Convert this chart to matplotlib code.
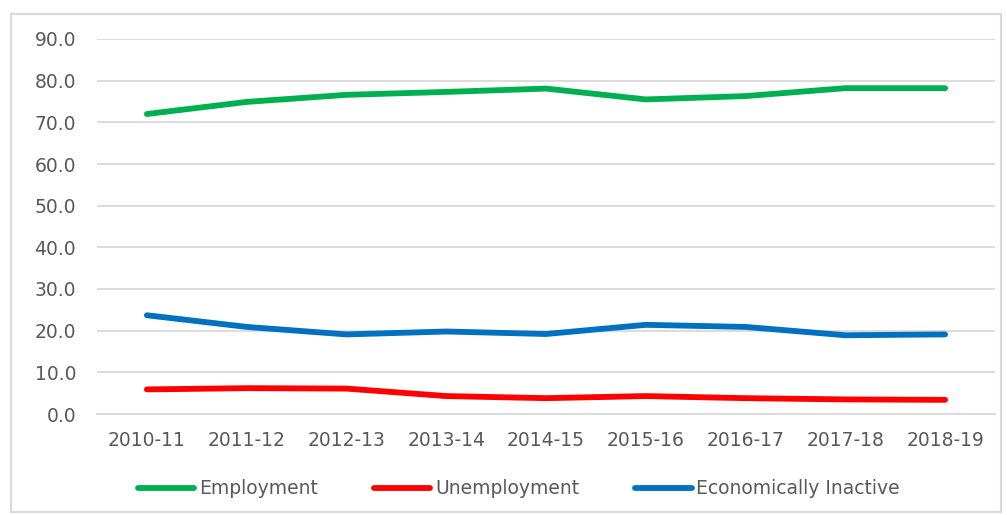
import matplotlib
matplotlib.use("Agg")
import matplotlib.pyplot as plt
from matplotlib.patches import Rectangle

anios = ["2010-11", "2011-12", "2012-13", "2013-14", "2014-15",
         "2015-16", "2016-17", "2017-18", "2018-19"]
empleo = [72.0, 74.9, 76.6, 77.3, 78.1, 75.5, 76.3, 78.2, 78.2]
desempleo = [5.9, 6.2, 6.1, 4.3, 3.8, 4.3, 3.8, 3.5, 3.4]
inactivos = [23.7, 20.9, 19.1, 19.8, 19.2, 21.4, 20.9, 18.9, 19.1]

plt.rcParams['font.family'] = ['DejaVu Sans']
gris = "#595959"

fig = plt.figure(figsize=(10.07, 5.15), dpi=100)
ax = fig.add_axes([97 / 1007, 1 - 414 / 515, 898 / 1007, 375 / 515])

x = range(len(anios))
ax.plot(x, empleo, color="#00b050", lw=4.2, solid_capstyle="round", label="Employment")
ax.plot(x, desempleo, color="#ff0000", lw=4.2, solid_capstyle="round", label="Unemployment")
ax.plot(x, inactivos, color="#0070c0", lw=4.2, solid_capstyle="round", label="Economically Inactive")

ax.set_xlim(-0.5, len(anios) - 0.5)
ax.set_ylim(0, 90)
ax.set_yticks(range(0, 91, 10))
ax.set_yticklabels([f"{v:.1f}" for v in range(0, 91, 10)])
ax.set_xticks(list(x))
ax.set_xticklabels(anios)
ax.grid(axis="y", color="#d9d9d9", lw=1.3)
ax.set_axisbelow(True)
for s in ["top", "right", "left"]:
    ax.spines[s].set_visible(False)
ax.spines["bottom"].set_color("#d9d9d9")
ax.spines["bottom"].set_linewidth(1.3)
ax.tick_params(length=0, labelsize=13.5, labelcolor=gris)
ax.tick_params(axis="y", pad=15)
ax.tick_params(axis="x", pad=12)

ax.legend(loc="center", bbox_to_anchor=(0.47, -0.2), ncol=3, frameon=False,
          fontsize=13.5, labelcolor=gris, handlelength=3.0, handletextpad=0.25,
          columnspacing=3.0)

fig.patches.append(Rectangle((11 / 1007, 0.005), 990 / 1007, 1 - 14 / 515 - 0.005,
                             transform=fig.transFigure, fill=False,
                             edgecolor="#d9d9d9", lw=1.5))

fig.savefig("out.png", dpi=100)
